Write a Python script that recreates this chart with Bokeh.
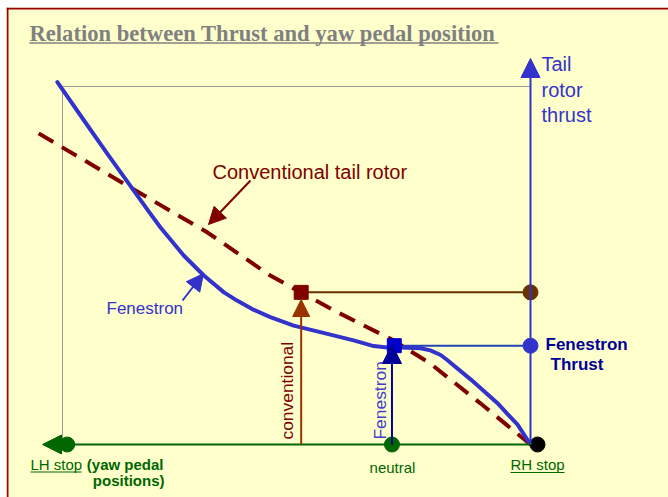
import math
from bokeh.plotting import figure
from bokeh.models import Range1d, Arrow, NormalHead, Span
from bokeh.core.properties import value
from bokeh.embed import file_html
from bokeh.resources import INLINE

# ---------------- data (pedal position: LH stop = 0 .. RH stop = 100; thrust: % of max) -------------
fen_pedal = [-1.1, 4.6, 9.6, 14.2, 18.8, 20.9, 25.9, 30.2, 34.5, 37.3, 40.9, 44.4, 49.4, 56.6,
             62.2, 66.5, 69.4, 72.2, 76.5, 78.6, 80.8, 82.2, 87.2, 92.9, 95.0, 97.2, 100.0]
fen_thrust = [101.2, 90.5, 81.2, 72.8, 64.4, 60.7, 52.8, 47.2, 42.5, 40.2, 37.6, 35.6, 33.2, 30.9,
              29.1, 27.5, 27.1, 27.1, 26.9, 26.3, 25.0, 23.6, 18.2, 11.6, 8.6, 5.6, 0.0]
conv_pedal = [-5.1, 14.1, 31.0, 44.4, 50.9, 58.8, 70.7, 78.6, 89.3, 100.0]
conv_thrust = [86.9, 72.1, 59.2, 47.2, 42.5, 36.9, 29.1, 22.6, 11.5, 0.0]

conv_point_pedal, conv_point_thrust = 51.0, 42.5
fen_point_pedal, fen_point_thrust = 70.4, 27.6
lh_stop, neutral, rh_stop = 0.0, 70.4, 100.0
thrust_max = 100.0

# ---------------- page-pixel helpers for annotation placement -------------
X0, SX, Y0, SY = 62.0, 4.68, 444.0, 3.58
def X(px):
    return (px - X0) / SX
def Y(py):
    return (Y0 - py) / SY
K = 0.3  # svg text baseline compensation (fraction of font size)
def YB(py, fs):
    return Y(py - K * fs)

SANS = value("Liberation Sans")
SERIF = value("Liberation Serif")

p = figure(width=668, height=497, x_range=Range1d(X(6), X(668)), y_range=Range1d(Y(497), Y(7)),
           output_backend="svg", toolbar_location=None,
           min_border_left=6, min_border_top=7, min_border_right=0, min_border_bottom=0,
           x_axis_type=None, y_axis_type=None,
           background_fill_color="#FFFFCC", border_fill_color="#FFFFFF", outline_line_color=None)
p.grid.visible = False

# frame border (left and top)
p.add_layout(Span(location=X(7), dimension="height", line_color="#990000", line_width=2))
p.add_layout(Span(location=Y(8), dimension="width", line_color="#990000", line_width=2))

# title
p.text(x=[X(29)], y=[YB(39.5, 22.5)], text=["Relation between Thrust and yaw pedal position"],
       text_font=SERIF, text_font_style="bold", text_font_size="22.6px", text_color="#808080",
       text_align="left", text_baseline="alphabetic")
p.segment(x0=[X(29)], y0=[Y(42.5)], x1=[X(498)], y1=[Y(42.5)], line_color="#808080", line_width=1.5)

# gray reference box
p.line([lh_stop, lh_stop, rh_stop], [0, thrust_max, thrust_max], line_color="#999999", line_width=1)

# operating-point horizontal lines
p.line([conv_point_pedal, rh_stop], [conv_point_thrust, conv_point_thrust], line_color="#663300", line_width=2)
p.line([fen_point_pedal, rh_stop], [fen_point_thrust, fen_point_thrust], line_color="#1F45B5", line_width=2)

# axes with arrows
p.add_layout(Arrow(end=NormalHead(size=19, fill_color="#3333CC", line_color="#3333CC"),
                   x_start=rh_stop, y_start=0, x_end=rh_stop, y_end=Y(58),
                   line_color="#3333CC", line_width=2))
p.add_layout(Arrow(end=NormalHead(size=19, fill_color="#006600", line_color="#006600"),
                   x_start=rh_stop, y_start=0, x_end=X(42), y_end=0,
                   line_color="#006600", line_width=2))

# curves
p.line(conv_pedal, conv_thrust, line_color="#800000", line_width=4, line_dash="17 10")
p.line(fen_pedal, fen_thrust, line_color="#3333CC", line_width=4, line_join="round", line_cap="round")

# vertical operating arrows
p.add_layout(Arrow(end=NormalHead(size=17, fill_color="#993300", line_color="#993300"),
                   x_start=conv_point_pedal, y_start=0, x_end=conv_point_pedal, y_end=Y(299),
                   line_color="#993300", line_width=2))
p.add_layout(Arrow(end=NormalHead(size=19, fill_color="#000099", line_color="#000099"),
                   x_start=fen_point_pedal, y_start=0, x_end=fen_point_pedal, y_end=Y(344),
                   line_color="#000099", line_width=2))
p.scatter([conv_point_pedal], [conv_point_thrust], marker="square", size=14, color="#800000")
p.scatter([fen_point_pedal + 0.5], [fen_point_thrust], marker="square", size=14, color="#0000CC")

# callout arrows
p.add_layout(Arrow(end=NormalHead(size=17, fill_color="#800000", line_color="#800000"),
                   x_start=X(250), y_start=Y(180), x_end=X(208), y_end=Y(224),
                   line_color="#800000", line_width=2))
p.add_layout(Arrow(end=NormalHead(size=17, fill_color="#3333CC", line_color="#3333CC"),
                   x_start=X(182), y_start=Y(300), x_end=X(203), y_end=Y(273),
                   line_color="#3333CC", line_width=2))

# dots
p.scatter([lh_stop + 1.0, neutral], [0, 0], marker="circle", size=15, color="#006600")
p.scatter([rh_stop + 1.5], [0], marker="circle", size=15, color="#000000")
p.scatter([rh_stop], [conv_point_thrust], marker="circle", size=15, color="#663300")
p.scatter([rh_stop], [fen_point_thrust], marker="circle", size=15, color="#3333CC")

# labels
p.text(x=[X(541)] * 3, y=[YB(69.5, 20), YB(95, 20), YB(120.5, 20)], text=["Tail", "rotor", "thrust"],
       text_font=SANS, text_font_size="20px", text_color="#3333CC", text_baseline="alphabetic")
p.text(x=[X(212)], y=[YB(177, 20)], text=["Conventional tail rotor"],
       text_font=SANS, text_font_size="20px", text_color="#800000", text_baseline="alphabetic")
p.text(x=[X(106)], y=[YB(313, 17)], text=["Fenestron"],
       text_font=SANS, text_font_size="17px", text_color="#3333CC", text_baseline="alphabetic")
p.text(x=[X(291.5 - K * 17.4)], y=[Y(439)], text=["conventional"], angle=math.pi / 2,
       text_font=SANS, text_font_size="17.4px", text_color="#800000", text_baseline="alphabetic")
p.text(x=[X(384.5 - K * 17.4)], y=[Y(439)], text=["Fenestron"], angle=math.pi / 2,
       text_font=SANS, text_font_size="17.4px", text_color="#4040CC", text_baseline="alphabetic")
p.text(x=[X(545), X(550)], y=[YB(349.5, 17), YB(369.5, 17)], text=["Fenestron", "Thrust"],
       text_font=SANS, text_font_style="bold", text_font_size="17px", text_color="#000099",
       text_baseline="alphabetic")

# bottom labels
p.text(x=[X(30)], y=[YB(468, 15)], text=["LH stop"], text_font=SANS, text_font_size="15px",
       text_color="#006600", text_baseline="alphabetic")
p.segment(x0=[X(30)], y0=[Y(471.5)], x1=[X(81)], y1=[Y(471.5)], line_color="#006600", line_width=1)
p.text(x=[X(163), X(164)], y=[YB(468, 15), YB(484, 15)], text=["(yaw pedal", "positions)"],
       text_font=SANS, text_font_style="bold", text_font_size="15px", text_color="#006600",
       text_align="right", text_baseline="alphabetic")
p.text(x=[X(392)], y=[YB(471, 15)], text=["neutral"], text_font=SANS, text_font_size="15px",
       text_color="#006600", text_align="center", text_baseline="alphabetic")
p.text(x=[X(537)], y=[YB(468, 15)], text=["RH stop"], text_font=SANS, text_font_size="15px",
       text_color="#006600", text_align="center", text_baseline="alphabetic")
p.segment(x0=[X(510)], y0=[Y(472)], x1=[X(564)], y1=[Y(472)], line_color="#006600", line_width=1)

open("out.html", "w").write(file_html(p, INLINE))
